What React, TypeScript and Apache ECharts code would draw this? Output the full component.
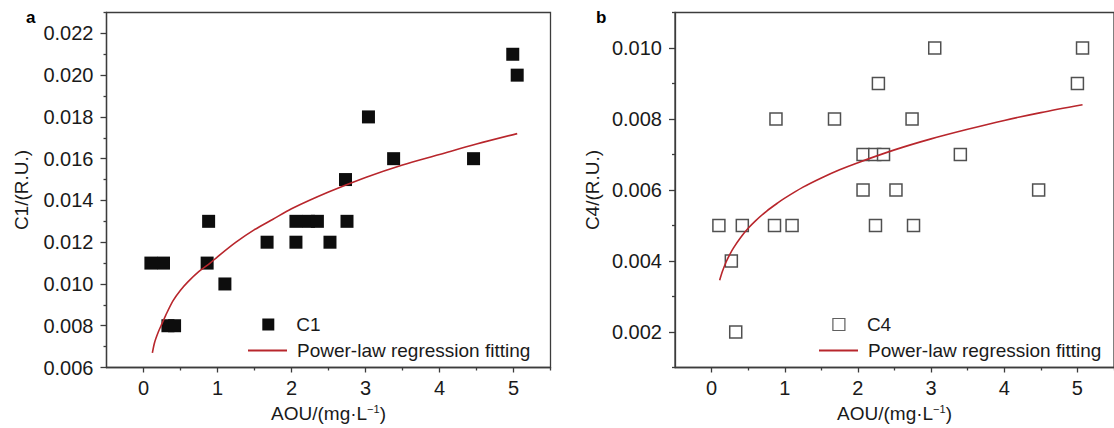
import React, { useEffect, useRef } from 'react';
import * as echarts from 'echarts';

// ---- Data ----
const c1X = [0.1, 0.27, 0.33, 0.42, 0.86, 0.88, 1.1, 1.67, 2.06, 2.06, 2.23, 2.35, 2.52, 2.73, 2.75, 3.04, 3.38, 4.46, 4.99, 5.05];
const c1Y = [0.011, 0.011, 0.008, 0.008, 0.011, 0.013, 0.010, 0.012, 0.013, 0.012, 0.013, 0.013, 0.012, 0.015, 0.013, 0.018, 0.016, 0.016, 0.021, 0.020];

const c4X = [0.1, 0.27, 0.42, 0.33, 0.88, 0.86, 1.1, 1.68, 2.07, 2.23, 2.35, 2.07, 2.28, 2.24, 2.52, 2.74, 2.76, 3.05, 3.4, 4.47, 5.0, 5.07];
const c4Y = [0.005, 0.004, 0.005, 0.002, 0.008, 0.005, 0.005, 0.008, 0.007, 0.007, 0.007, 0.006, 0.009, 0.005, 0.006, 0.008, 0.005, 0.010, 0.007, 0.006, 0.009, 0.010];

const fitAX = [0.12, 0.15, 0.2, 0.25, 0.3, 0.4, 0.5, 0.6, 0.75, 0.9, 1.0, 1.25, 1.5, 1.75, 2.0, 2.5, 3.0, 3.5, 4.0, 4.5, 5.05];
const fitAY = [0.0067, 0.0072, 0.0077, 0.0081, 0.0085, 0.0092, 0.0097, 0.0101, 0.0106, 0.0110, 0.0113, 0.0120, 0.0126, 0.0131, 0.0136, 0.0144, 0.0151, 0.0157, 0.0162, 0.0167, 0.0172];

const fitBX = [0.11, 0.15, 0.2, 0.25, 0.3, 0.4, 0.5, 0.6, 0.75, 0.9, 1.0, 1.25, 1.5, 1.75, 2.0, 2.5, 3.0, 3.5, 4.0, 4.5, 5.07];
const fitBY = [0.00346, 0.00372, 0.00398, 0.00419, 0.00437, 0.00467, 0.00492, 0.00513, 0.0054, 0.00563, 0.00577, 0.00608, 0.00634, 0.00657, 0.00677, 0.00713, 0.00744, 0.00771, 0.00796, 0.00818, 0.0084];

const xTicks = [0, 1, 2, 3, 4, 5];
const xMinor = [0.5, 1.5, 2.5, 3.5, 4.5, 5.5];
const aYTicks = [0.006, 0.008, 0.010, 0.012, 0.014, 0.016, 0.018, 0.020, 0.022];
const aYMinor = [0.007, 0.009, 0.011, 0.013, 0.015, 0.017, 0.019, 0.021, 0.023];
const bYTicks = [0.002, 0.004, 0.006, 0.008, 0.010];
const bYMinor = [0.001, 0.003, 0.005, 0.007, 0.009, 0.011];

const FIT_NAME = 'Power-law regression fitting';
const FONT = 'Liberation Sans, Arial, sans-serif';
const AX = '#3c3c3c';
const TXT = '#1a1a1a';
const RED = '#b8262c';
const FS = 19;
const TFS = 20;

const zip = (xs: number[], ys: number[]) => xs.map((x, i) => [x, ys[i]]);

function xAxes(grid: number) {
  const lineStyle = { color: AX, width: 1.3 };
  return [
    {
      type: 'value', gridIndex: grid, min: -0.5, max: 5.5, position: 'bottom',
      axisLine: { show: true, onZero: false, lineStyle },
      axisTick: { show: true, inside: false, length: 5, customValues: xTicks, lineStyle },
      axisLabel: { customValues: xTicks, margin: 10, fontSize: TFS, color: TXT, fontFamily: FONT, formatter: (v: number) => String(v) },
      splitLine: { show: false },
      name: 'AOU/(mg·L{sup|−1})', nameLocation: 'middle', nameGap: 36,
      nameTextStyle: { fontSize: FS, color: TXT, fontFamily: FONT, rich: { sup: { fontSize: 11, color: TXT, fontFamily: FONT, padding: [0, 0, 9, 0] } } },
    },
    {
      type: 'value', gridIndex: grid, min: -0.5, max: 5.5, position: 'bottom',
      axisLine: { show: false, onZero: false },
      axisTick: { show: true, inside: false, length: 3, customValues: xMinor, lineStyle },
      axisLabel: { show: false },
      splitLine: { show: false },
    },
  ];
}

function yAxes(grid: number, min: number, max: number, ticks: number[], minor: number[], name: string, gap: number) {
  const lineStyle = { color: AX, width: 1.3 };
  return [
    {
      type: 'value', gridIndex: grid, min, max, position: 'left',
      axisLine: { show: true, onZero: false, lineStyle },
      axisTick: { show: true, inside: false, length: 6, customValues: ticks, lineStyle },
      axisLabel: { customValues: ticks, margin: 13, fontSize: TFS, color: TXT, fontFamily: FONT, formatter: (v: number) => v.toFixed(3) },
      splitLine: { show: false },
      name, nameLocation: 'middle', nameGap: gap,
      nameTextStyle: { fontSize: FS, color: TXT, fontFamily: FONT },
    },
    {
      type: 'value', gridIndex: grid, min, max, position: 'left',
      axisLine: { show: false, onZero: false },
      axisTick: { show: true, inside: false, length: 3, customValues: minor, lineStyle },
      axisLabel: { show: false },
      splitLine: { show: false },
    },
  ];
}

export default function App() {
  const ref = useRef<HTMLDivElement>(null);
  useEffect(() => {
    if (!ref.current) return;
    const chart = echarts.init(ref.current, null, { renderer: 'svg' });
    const textStyle = { fontSize: FS, color: TXT, fontFamily: FONT };
    const symLegend = (left: number, name: string, itemStyle: any) => ({
      orient: 'vertical', left, top: 315, padding: 0, itemWidth: 12, itemHeight: 12,
      textStyle: { ...textStyle, padding: [0, 0, 0, 17] }, selectedMode: false,
      data: [{ name, icon: 'rect', itemStyle }],
    });
    const lineLegend = (left: number) => ({
      orient: 'vertical', left, top: 341, padding: 0, itemWidth: 39, itemHeight: 2,
      textStyle: { ...textStyle, padding: [0, 0, 0, 5] }, selectedMode: false,
      data: [{ name: FIT_NAME, icon: 'rect' }],
    });
    chart.setOption({
      animation: false,
      backgroundColor: '#ffffff',
      title: [
        { text: 'a', left: 21, top: 4, textStyle: { fontSize: 17, fontWeight: 'bold', color: '#000', fontFamily: FONT } },
        { text: 'b', left: 591, top: 4, textStyle: { fontSize: 17, fontWeight: 'bold', color: '#000', fontFamily: FONT } },
      ],
      grid: [
        { left: 106.5, top: 12.5, width: 444, height: 358, show: true, borderColor: AX, borderWidth: 1.3, backgroundColor: 'transparent' },
        { left: 675, top: 12.5, width: 444.6, height: 358, show: true, borderColor: AX, borderWidth: 1.3, backgroundColor: 'transparent' },
      ],
      xAxis: [...xAxes(0), ...xAxes(1)],
      yAxis: [
        ...yAxes(0, 0.006, 0.023, aYTicks, aYMinor, 'C1/(R.U.)', 76),
        ...yAxes(1, 0.001, 0.011, bYTicks, bYMinor, 'C4/(R.U.)', 73),
      ],
      legend: [
        symLegend(262.3, 'C1', { color: '#0d0d0d', borderWidth: 0 }),
        lineLegend(248),
        symLegend(832.3, 'C4', { color: '#ffffff', borderColor: '#606060', borderWidth: 1.2 }),
        lineLegend(819),
      ],
      series: [
        {
          name: 'C1', type: 'scatter', xAxisIndex: 0, yAxisIndex: 0, symbol: 'rect', symbolSize: 13,
          itemStyle: { color: '#0d0d0d', opacity: 1 }, data: zip(c1X, c1Y), z: 3,
        },
        {
          name: FIT_NAME, type: 'line', xAxisIndex: 0, yAxisIndex: 0, smooth: 0.3,
          showSymbol: false, symbol: 'none', lineStyle: { color: RED, width: 1.6 }, itemStyle: { color: RED },
          data: zip(fitAX, fitAY), z: 4,
        },
        {
          name: 'C4', type: 'scatter', xAxisIndex: 2, yAxisIndex: 2, symbol: 'rect', symbolSize: 12,
          itemStyle: { color: '#ffffff', borderColor: '#505050', borderWidth: 1.5, opacity: 1 }, data: zip(c4X, c4Y), z: 3,
        },
        {
          name: FIT_NAME, type: 'line', xAxisIndex: 2, yAxisIndex: 2, smooth: 0.3,
          showSymbol: false, symbol: 'none', lineStyle: { color: RED, width: 1.6 }, itemStyle: { color: RED },
          data: zip(fitBX, fitBY), z: 4,
        },
      ],
    });
    return () => chart.dispose();
  }, []);
  return <div ref={ref} style={{ position: 'absolute', left: 0, top: 0, width: 1114, height: 428 }} />;
}
